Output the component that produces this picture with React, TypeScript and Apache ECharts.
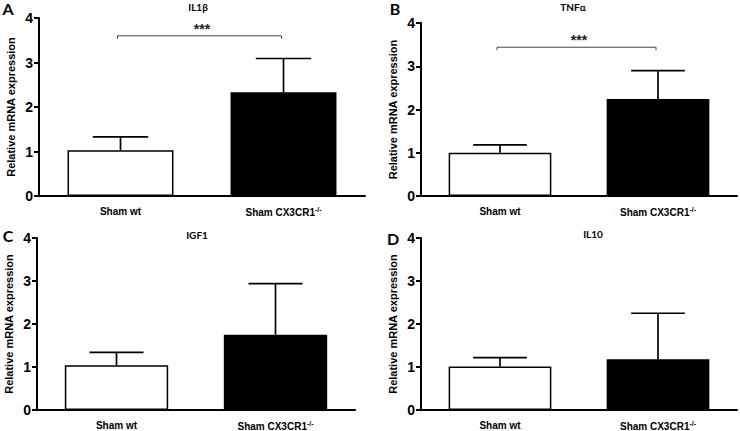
import React, { useEffect, useRef } from "react";
import * as echarts from "echarts";

const categories = ["Sham wt", "Sham CX3CR1-/-"];
const panelTitles = ["IL1β", "TNFα", "IGF1", "IL10"];
const panelLetters = ["A", "B", "C", "D"];
const meanWT = [1.03, 1.0, 1.04, 1.01];
const meanKO = [2.33, 2.24, 1.75, 1.18];
const semWT = [0.3, 0.18, 0.3, 0.21];
const semKO = [0.76, 0.66, 1.19, 1.07];
const sigLevel = [3.6, 3.44, null, null];
const sigLabel = ["***", "***", "", ""];
const yTicks = [0, 1, 2, 3, 4];

const grids = [
  { left: 39, top: 18, width: 326, height: 178 },
  { left: 421, top: 23, width: 316, height: 173 },
  { left: 37, top: 238, width: 318, height: 173 },
  { left: 421, top: 238, width: 316, height: 172 },
];
const titlePos = [
  [198, 7],
  [573, 7],
  [197, 235],
  [593, 234],
];
const letterPos = [
  [8, 8],
  [395, 8],
  [8, 235],
  [393, 238],
];

const ARIAL = "'Liberation Sans', Arial, sans-serif";
const CALIBRI = "Lato, 'Open Sans', 'DejaVu Sans', sans-serif";

export default function App() {
  const ref = useRef<HTMLDivElement>(null);
  useEffect(() => {
    if (!ref.current) return;
    const chart = echarts.init(ref.current, null, { renderer: "svg" });
    const xAxis: any[] = [];
    const yAxis: any[] = [];
    const series: any[] = [];
    const graphic: any[] = [];
    for (let i = 0; i < 4; i++) {
      xAxis.push({
        type: "category",
        gridIndex: i,
        data: categories,
        axisLine: { lineStyle: { color: "#000", width: 2 } },
        axisTick: { alignWithLabel: true, length: 5, lineStyle: { color: "#000", width: 2 } },
        axisLabel: {
          margin: 10,
          color: "#000",
          fontFamily: ARIAL,
          fontWeight: "bold",
          fontSize: 10,
          formatter: (v: string) => v.replace("-/-", "{sup|-/-}"),
          rich: {
            sup: { fontSize: 7, fontWeight: "bold", fontFamily: ARIAL, color: "#000", verticalAlign: "top", padding: [0, 0, 5, 0] },
          },
        },
      });
      yAxis.push({
        type: "value",
        gridIndex: i,
        min: yTicks[0],
        max: yTicks[yTicks.length - 1],
        interval: 1,
        splitLine: { show: false },
        axisLine: { show: true, lineStyle: { color: "#000", width: 2 } },
        axisTick: { show: true, length: 5, lineStyle: { color: "#000", width: 2 } },
        axisLabel: { margin: 6, color: "#000", fontFamily: ARIAL, fontWeight: "bold", fontSize: 14 },
        name: "Relative mRNA expression",
        nameLocation: "middle",
        nameGap: 23,
        nameRotate: 90,
        nameTextStyle: { color: "#000", fontFamily: ARIAL, fontWeight: "bold", fontSize: 11 },
      });
      series.push({
        type: "bar",
        xAxisIndex: i,
        yAxisIndex: i,
        barWidth: "65%",
        data: [
          { value: meanWT[i], itemStyle: { color: "#fff", borderColor: "#000", borderWidth: 1.5 } },
          { value: meanKO[i], itemStyle: { color: "#000", borderColor: "#000", borderWidth: 1.5 } },
        ],
      });
      series.push({
        type: "custom",
        xAxisIndex: i,
        yAxisIndex: i,
        z: 5,
        data: [
          [0, meanWT[i], meanWT[i] + semWT[i]],
          [1, meanKO[i], meanKO[i] + semKO[i]],
        ],
        encode: { x: 0, y: [1, 2] },
        renderItem: (params: any, api: any) => {
          const x = api.value(0);
          const p0 = api.coord([x, api.value(1)]);
          const p1 = api.coord([x, api.value(2)]);
          const half = api.size([1, 0])[0] * 0.17;
          return {
            type: "group",
            children: [
              { type: "line", shape: { x1: p0[0], y1: p0[1], x2: p1[0], y2: p1[1] }, style: { stroke: "#000", lineWidth: 1.7 } },
              { type: "line", shape: { x1: p1[0] - half, y1: p1[1], x2: p1[0] + half, y2: p1[1] }, style: { stroke: "#000", lineWidth: 1.7 } },
            ],
          };
        },
      });
      if (sigLevel[i] !== null) {
        series.push({
          type: "custom",
          xAxisIndex: i,
          yAxisIndex: i,
          z: 6,
          data: [[0, 1, sigLevel[i]]],
          encode: { x: [0, 1], y: 2 },
          renderItem: (params: any, api: any) => {
            const lvl = api.value(2);
            const a = api.coord([api.value(0), lvl]);
            const b = api.coord([api.value(1), lvl]);
            return {
              type: "group",
              children: [
                {
                  type: "polyline",
                  shape: { points: [[a[0] - 3, a[1] + 3], [a[0] - 3, a[1]], [b[0] - 2, b[1]], [b[0] - 2, b[1] + 3]] },
                  style: { stroke: "#444", lineWidth: 1, fill: null },
                },
                {
                  type: "text",
                  x: (a[0] + b[0]) / 2,
                  y: a[1] - 7,
                  style: { text: sigLabel[i], fill: "#222", font: `bold 14px ${ARIAL}`, align: "center", verticalAlign: "middle" },
                },
              ],
            };
          },
        });
      }
      graphic.push({
        type: "text",
        x: titlePos[i][0],
        y: titlePos[i][1],
        style: { text: panelTitles[i], fill: "#000", font: `bold 10px ${CALIBRI}`, align: "center", verticalAlign: "middle" },
      });
      graphic.push({
        type: "text",
        x: letterPos[i][0],
        y: letterPos[i][1],
        style: { text: panelLetters[i], fill: "#000", font: `bold 16px ${CALIBRI}`, align: "center", verticalAlign: "middle" },
      });
    }
    chart.setOption({
      animation: false,
      backgroundColor: "#fff",
      grid: grids.map((g) => ({ ...g, containLabel: false })),
      xAxis,
      yAxis,
      series,
      graphic,
    });
    return () => chart.dispose();
  }, []);
  return <div ref={ref} style={{ position: "fixed", left: 0, top: 0, width: 740, height: 431, background: "#fff" }} />;
}
